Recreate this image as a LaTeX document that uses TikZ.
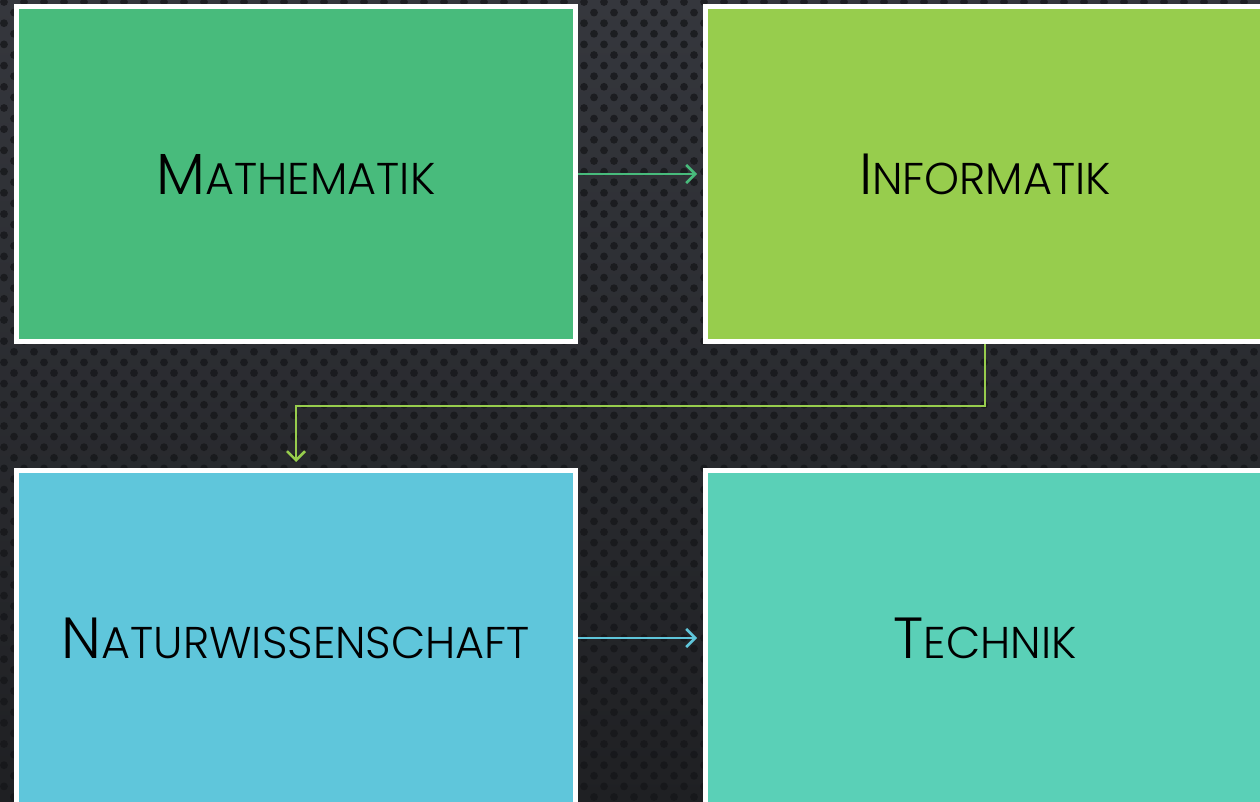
\documentclass[tikz,border=0pt]{standalone}
\usepackage{fontspec}
\setmainfont{Poppins}[UprightFont=* Light]
\usetikzlibrary{arrows.meta}

\newlength{\du}
\setlength{\du}{1pt}

\definecolor{mathecolor}{HTML}{48BB7C}
\definecolor{infocolor}{HTML}{97CD4D}
\definecolor{naturcolor}{HTML}{5FC6DB}
\definecolor{techcolor}{HTML}{5AD0B7}
\definecolor{bgtop}{HTML}{35373D}
\definecolor{bgbottom}{HTML}{1F2023}
\definecolor{dotcolor}{HTML}{151619}

% kleine Kapitaelchen von Hand
\newcommand{\kap}[2]{{\fontsize{58}{60}\selectfont #1}{\fontsize{44.5}{46}\selectfont #2}}

\tikzset{
  fachbox/.style={draw=white, line width=5\du, minimum width=559\du,
    minimum height=335\du, inner sep=0pt},
  pfeil/.style={line width=2.5pt, -{Straight Barb[length=9pt,width=18pt]},
    shorten >=6pt},
}

\begin{document}
\begin{tikzpicture}
\pgftransformxscale{1.000000}
\pgftransformyscale{-1.000000}

\clip (0,0) rectangle (1260\du,802\du);
\useasboundingbox (0,0) rectangle (1260\du,802\du);

% Hintergrund mit Punkten
\shade[top color=bgtop, bottom color=bgbottom] (0,0) rectangle (1260\du,802\du);
\foreach \r in {0,...,76}{
  \foreach \c in {0,...,63}{
    \fill[dotcolor, opacity=0.75] ({\c*20\du+mod(\r,2)*10\du+4\du},{\r*10.6\du+2\du}) circle (3.9\du);
  }
}

\node[fachbox, fill=mathecolor] (mathe) at (296\du,174\du) {\kap{M}{ATHEMATIK}};
\node[fachbox, fill=infocolor] (info) at (985\du,174\du) {\kap{I}{NFORMATIK}};
\node[fachbox, fill=naturcolor] (natur) at (296\du,638\du) {\kap{N}{ATURWISSENSCHAFT}};
\node[fachbox, fill=techcolor] (technik) at (985\du,638\du) {\kap{T}{ECHNIK}};

\draw[pfeil, mathecolor] (mathe.east) -- (info.west);
\draw[pfeil, infocolor] (info.south) -- ++(0,62\du) -| (natur.north);
\draw[pfeil, naturcolor] (natur.east) -- (technik.west);

\end{tikzpicture}
\end{document}
